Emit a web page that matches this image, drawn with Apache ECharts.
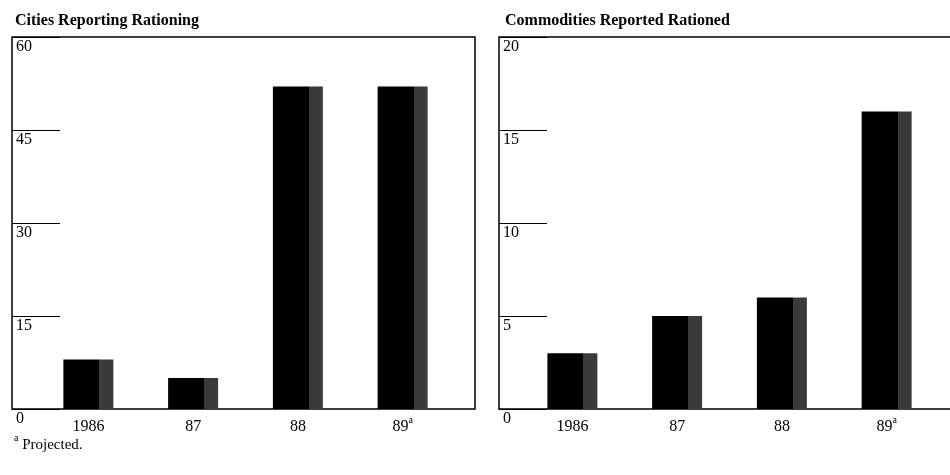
<!DOCTYPE html>
<html>
<head>
<meta charset="utf-8">
<script src="https://cdn.jsdelivr.net/npm/echarts@6/dist/echarts.min.js"></script>
<style>
  html, body { margin: 0; padding: 0; background: #fff; }
  #main { width: 950px; height: 475px; }
</style>
</head>
<body>
<div id="main"></div>
<script>
// data
var years = ['1986', '87', '88', '89{sup|a}'];
var cities = [8, 5, 52, 52];
var commodities = [3, 5, 6, 16];
var citiesTicks = [0, 15, 30, 45, 60];
var commodityTicks = [0, 5, 10, 15, 20];

var FONT = '"Liberation Serif", "DejaVu Serif", serif';

var chartDom = document.getElementById('main');
var myChart = echarts.init(chartDom);

// black bar with the halftone strip on its right third
var barColor = {
  type: 'linear', x: 0, y: 0, x2: 1, y2: 0,
  colorStops: [
    { offset: 0, color: '#000' },
    { offset: 0.72, color: '#000' },
    { offset: 0.72, color: '#3a3a3a' },
    { offset: 1, color: '#3a3a3a' }
  ]
};

// superscript "a": small token pinned to the top of a tall line
var supStyle = { fontSize: 10, fontFamily: FONT, color: '#000', verticalAlign: 'top' };

function boxYAxis(gridIndex, ticks) {
  return {
    type: 'value',
    gridIndex: gridIndex,
    min: ticks[0],
    max: ticks[ticks.length - 1],
    interval: ticks[1] - ticks[0],
    axisLine: { show: false },
    splitLine: { show: false },
    axisTick: { show: true, inside: true, length: 48, lineStyle: { color: '#000', width: 1 } },
    axisLabel: {
      inside: true,
      margin: 4,
      verticalAlign: 'top',
      padding: [2, 0, 0, 0],
      color: '#000',
      fontFamily: FONT,
      fontSize: 16
    }
  };
}

function barYAxis(gridIndex, ticks) {
  return {
    type: 'value',
    gridIndex: gridIndex,
    min: ticks[0],
    max: ticks[ticks.length - 1],
    show: false
  };
}

function barXAxis(gridIndex) {
  return {
    type: 'category',
    gridIndex: gridIndex,
    data: years,
    axisLine: { show: false },
    axisTick: { show: false },
    axisLabel: {
      margin: 6,
      color: '#000',
      fontFamily: FONT,
      fontSize: 16,
      lineHeight: 24,
      rich: { sup: supStyle }
    }
  };
}

function emptyXAxis(gridIndex) {
  return { type: 'category', gridIndex: gridIndex, data: [], show: false };
}

var option = {
  animation: false,
  backgroundColor: '#fff',
  title: [
    { text: 'Cities Reporting Rationing', left: 10, top: 8,
      textStyle: { fontFamily: FONT, fontSize: 16, fontWeight: 'bold', color: '#000' } },
    { text: 'Commodities Reported Rationed', left: 500, top: 8,
      textStyle: { fontFamily: FONT, fontSize: 16, fontWeight: 'bold', color: '#000' } }
  ],
  grid: [
    // boxes (the right one runs off the page edge)
    { left: 12, right: 475, top: 37, bottom: 66, show: true, borderColor: '#000', borderWidth: 1.5,
      outerBoundsMode: 'none' },
    { left: 499, width: 470, top: 37, bottom: 66, show: true, borderColor: '#000', borderWidth: 1.5,
      outerBoundsMode: 'none' },
    // bar areas
    { left: 36, right: 495, top: 37, bottom: 66, outerBoundsMode: 'none' },
    { left: 520, right: 11, top: 37, bottom: 66, outerBoundsMode: 'none' }
  ],
  xAxis: [emptyXAxis(0), emptyXAxis(1), barXAxis(2), barXAxis(3)],
  yAxis: [
    boxYAxis(0, citiesTicks),
    boxYAxis(1, commodityTicks),
    barYAxis(2, citiesTicks),
    barYAxis(3, commodityTicks)
  ],
  series: [
    { name: 'Cities', type: 'bar', xAxisIndex: 2, yAxisIndex: 2, data: cities,
      barWidth: 50, itemStyle: { color: barColor } },
    { name: 'Commodities', type: 'bar', xAxisIndex: 3, yAxisIndex: 3, data: commodities,
      barWidth: 50, itemStyle: { color: barColor } }
  ],
  graphic: [
    { type: 'text', left: 14, top: 433,
      style: {
        text: '{sup|a} Projected.',
        fontFamily: FONT, fontSize: 15, fill: '#000', lineHeight: 24,
        rich: { sup: supStyle }
      } }
  ]
};

myChart.setOption(option);
</script>
</body>
</html>
